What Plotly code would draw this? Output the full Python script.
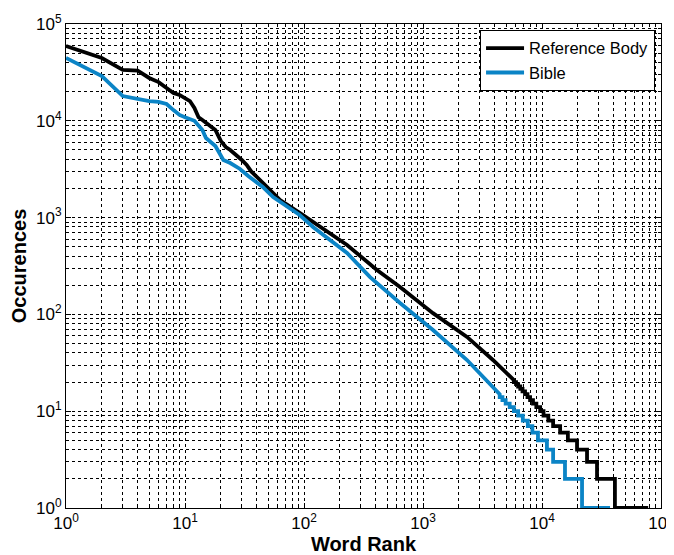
import plotly.graph_objects as go

# Reference Body: head (rank, occurrences)
ref_head_rank = [1, 2, 3, 4, 5, 6, 7, 8, 9, 10, 11, 12, 13, 14, 16, 18, 20, 22, 24, 27, 30, 33, 36,
                 49, 63, 92, 119, 230, 410, 641, 1213, 2344, 3870, 5800]
ref_head_occ = [59300, 44500, 33500, 33000, 27700, 25100, 21800, 19400, 18500, 17200, 16000, 13600,
                10900, 10200, 9050, 8040, 6190, 5360, 4990, 4430, 3940, 3500, 3000,
                2070, 1520, 1117, 901, 521, 288, 192, 103, 58.5, 33.8, 21]
# Reference Body tail: occurrence count and last rank holding that count
ref_tail_occ = [20, 19, 18, 17, 16, 15, 14, 13, 12, 11, 10, 9, 8, 7, 6, 5, 4, 3, 2, 1]
ref_tail_last_rank = [6050, 6300, 6570, 6860, 7200, 7550, 7940, 8400, 8960, 9650, 10300, 11300,
                      12400, 14200, 16500, 19700, 23900, 29000, 41000, 78000]

# Bible: head
bib_head_rank = [1, 2, 3, 4, 5, 6, 7, 8, 9, 10, 12, 14, 15, 18, 21, 24, 29, 34, 45, 55, 63, 92,
                 119, 230, 359, 641, 1213, 2344, 4410]
bib_head_occ = [44600, 29000, 18000, 16800, 16000, 15700, 14900, 12900, 11500, 10900, 10000, 8040,
                6640, 5490, 3940, 3660, 3180, 2690, 2070, 1630, 1450, 1064,
                800, 431, 243, 131, 69, 33.8, 15]
bib_tail_occ = [14, 13, 12, 11, 10, 9, 8, 7, 6, 5, 4, 3, 2, 1]
bib_tail_last_rank = [4650, 4950, 5350, 5800, 6300, 6900, 7600, 8300, 9250, 11000, 12400, 15600,
                      21700, 37300]

x_tickvals = [1, 10, 100, 1000, 10000, 100000]
x_ticktext = ["10<sup>0</sup>", "10<sup>1</sup>", "10<sup>2</sup>", "10<sup>3</sup>",
              "10<sup>4</sup>", "10<sup>5</sup>"]
y_tickvals = [1, 10, 100, 1000, 10000, 100000]
y_ticktext = x_ticktext


def build(head_r, head_c, tail_c, tail_r):
    xs = list(head_r)
    ys = list(head_c)
    start = head_r[-1]
    for c, r_end in zip(tail_c, tail_r):
        xs += [start, r_end]
        ys += [c, c]
        start = r_end
    return xs, ys


rx, ry = build(ref_head_rank, ref_head_occ, ref_tail_occ, ref_tail_last_rank)
bx, by = build(bib_head_rank, bib_head_occ, bib_tail_occ, bib_tail_last_rank)

fig = go.Figure()
fig.add_trace(go.Scatter(x=rx, y=ry, mode="lines", name="Reference Body",
                         line=dict(color="black", width=3.8)))
fig.add_trace(go.Scatter(x=bx, y=by, mode="lines", name="Bible",
                         line=dict(color="#0b84c6", width=3.8)))

font_family = "Liberation Sans, Arial, sans-serif"
grid_common = dict(showgrid=True, gridcolor="black", gridwidth=1, griddash="3px,3px")

fig.update_xaxes(type="log", range=[0, 5], tickmode="array", tickvals=x_tickvals,
                 ticktext=x_ticktext, ticks="inside", ticklen=5, tickcolor="black",
                 showline=True, linecolor="black", linewidth=1, mirror="allticks",
                 zeroline=False, automargin=False, ticklabeloverflow="allow",
                 minor=dict(dtick="D1", ticks="inside", ticklen=3, tickcolor="black",
                            **grid_common),
                 tickfont=dict(size=17, color="black", family=font_family),
                 title=dict(text="<b>Word Rank</b>", standoff=2,
                            font=dict(size=20, color="black", family=font_family)),
                 **grid_common)
fig.update_yaxes(type="log", range=[0, 5], tickmode="array", tickvals=y_tickvals,
                 ticktext=y_ticktext, ticks="inside", ticklen=5, tickcolor="black",
                 showline=True, linecolor="black", linewidth=1, mirror="allticks",
                 zeroline=False, automargin=False, ticklabeloverflow="allow",
                 minor=dict(dtick="D1", ticks="inside", ticklen=3, tickcolor="black",
                            **grid_common),
                 tickfont=dict(size=17, color="black", family=font_family),
                 title=dict(text="<b>Occurences</b>", standoff=6,
                            font=dict(size=20, color="black", family=font_family)),
                 **grid_common)

# page body has an 8px default margin, so the figure is offset by that amount
fig.update_layout(
    width=674, height=547,
    margin=dict(l=58, r=21, t=16, b=47, autoexpand=False),
    paper_bgcolor="white", plot_bgcolor="white",
    font=dict(family=font_family, color="black"),
    legend=dict(x=0.99, y=0.988, xanchor="right", yanchor="top",
                bgcolor="white", bordercolor="black", borderwidth=1,
                font=dict(size=16.5, color="black", family=font_family),
                itemwidth=38, tracegroupgap=0),
    showlegend=True,
)

fig.write_html("out.html")
